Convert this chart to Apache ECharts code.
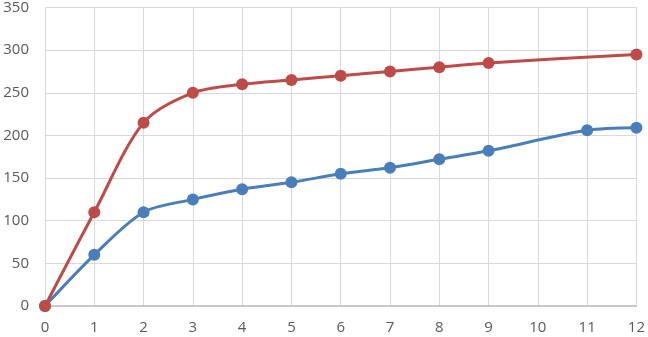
<!DOCTYPE html>
<html>
<head>
<meta charset="utf-8">
<script src="https://cdn.jsdelivr.net/npm/echarts@6/dist/echarts.min.js"></script>
<style>
  html, body { margin: 0; padding: 0; background: #fff; }
  #chart { width: 648px; height: 337px; }
</style>
</head>
<body>
<div id="chart"></div>
<script>
  // x positions and values
  const redX = [0, 1, 2, 3, 4, 5, 6, 7, 8, 9, 12]
  const redY = [0, 110, 215, 250, 260, 265, 270, 275, 280, 285, 295]
  const blueX = [0, 1, 2, 3, 4, 5, 6, 7, 8, 9, 11, 12]
  const blueY = [0, 60, 110, 125, 137, 145, 155, 162, 172, 182, 206, 209]

  const pairs = (xs, ys) => xs.map((x, i) => [x, ys[i]])

  const labelStyle = { color: '#595959', fontSize: 15, fontFamily: 'Open Sans, sans-serif' }

  const chart = echarts.init(document.getElementById('chart'))
  chart.setOption({
    animation: false,
    grid: { left: 45, right: 9, top: 6, bottom: 31 },
    xAxis: {
      type: 'value',
      min: 0, max: 12, interval: 1,
      axisLine: { lineStyle: { color: '#bfbfbf', width: 1.5 } },
      axisTick: { show: false },
      splitLine: { lineStyle: { color: '#d9d9d9' } },
      axisLabel: Object.assign({ margin: 14 }, labelStyle)
    },
    yAxis: {
      type: 'value',
      min: 0, max: 350, interval: 50,
      axisLine: { show: false },
      axisTick: { show: false },
      splitLine: { lineStyle: { color: '#d9d9d9' } },
      axisLabel: Object.assign({ margin: 16 }, labelStyle)
    },
    series: [
      {
        type: 'line',
        data: pairs(blueX, blueY),
        smooth: 0.3,
        symbol: 'circle',
        symbolSize: 12,
        lineStyle: { color: '#4a7ebb', width: 3 },
        itemStyle: { color: '#4a7ebb' }
      },
      {
        type: 'line',
        data: pairs(redX, redY),
        smooth: 0.3,
        symbol: 'circle',
        symbolSize: 12,
        lineStyle: { color: '#be4b48', width: 3 },
        itemStyle: { color: '#be4b48' }
      }
    ]
  })
</script>
</body>
</html>
